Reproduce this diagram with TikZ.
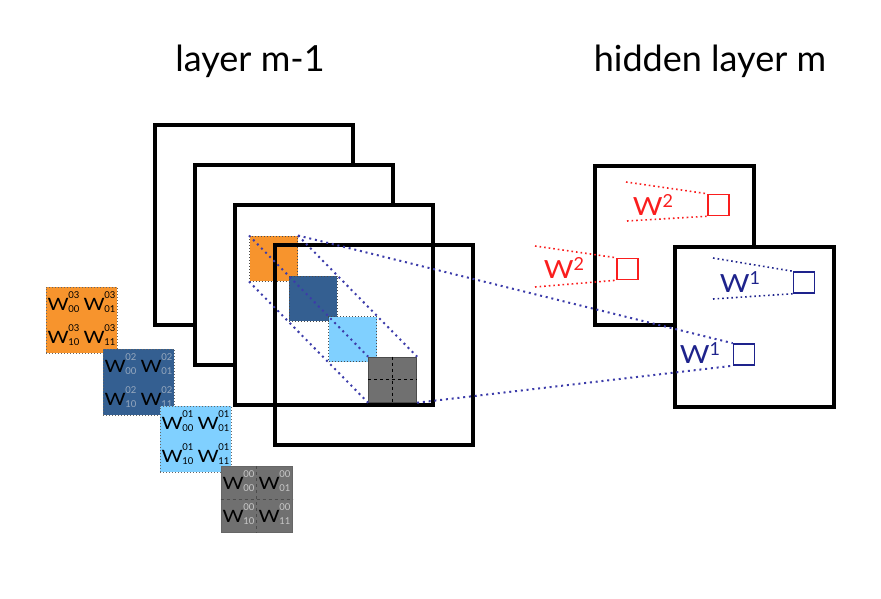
\documentclass[tikz,border=0pt]{standalone}
\usepackage{fontspec}
\setmainfont{Lato}
\usetikzlibrary{positioning}
\definecolor{wOrange}{RGB}{247,148,45}
\definecolor{wDark}{RGB}{52,95,145}
\definecolor{wLight}{RGB}{128,208,255}
\definecolor{wGray}{RGB}{112,112,112}
\definecolor{wScriptA}{RGB}{150,168,190}
\definecolor{wScriptB}{RGB}{200,200,200}
\definecolor{linkblue}{RGB}{60,60,170}
\definecolor{mapred}{RGB}{250,30,30}
\definecolor{mapblue}{RGB}{30,35,140}
\newcommand\wideW{\scalebox{1.2}[1]{W}}
\newcommand\wgt[3]{\wideW\kern-0.5pt\textcolor{#3}{\fontsize{9.5}{10}\selectfont\rlap{\raisebox{12pt}{#1}}\raisebox{-2pt}{#2}}}
\newcommand\wlabel[1]{\scalebox{1.15}[1]{W}\raisebox{8pt}{\fontsize{18}{18}\selectfont #1}}

\begin{document}
\begin{tikzpicture}[x=1pt,y=-1pt,
  sheet/.style={draw,line width=4.5pt,minimum width=198pt,minimum height=200pt,inner sep=0pt},
  fmap/.style={draw,fill=white,line width=4.5pt,minimum width=159pt,minimum height=159pt,inner sep=0pt},
  insq/.style={draw=black!70,dotted,line width=1pt,minimum width=48pt,minimum height=45pt,inner sep=0pt},
  wbox/.style={draw=black!60,dotted,line width=1pt,minimum width=71pt,minimum height=66pt,inner sep=0pt},
  wtxt/.style={inner sep=0pt,font=\fontsize{17}{20}\selectfont},
  link/.style={draw=linkblue,line width=2pt,dash pattern=on 2pt off 3.8pt},
  rlink/.style={link,draw=mapred,line width=1.6pt,dash pattern=on 1.6pt off 3pt},
  blink/.style={link,draw=mapblue,line width=1.6pt,dash pattern=on 1.6pt off 3pt},
  rsq/.style={draw=mapred,line width=1.5pt,minimum size=21pt,inner sep=0pt},
  bsq/.style={rsq,draw=mapblue},
  wlab/.style={inner sep=0pt,font=\fontsize{25}{30}\selectfont},
  headline/.style={anchor=base,font=\fontsize{36}{40}\selectfont}]
\useasboundingbox (0,0) rectangle (881,599);

\node[headline] (tin) at (250,72) {layer m-1};
\node[headline] (tout) at (710,72) {hidden layer m};

\foreach \i in {1,2,3}
  \node[sheet,fill=white] (f\i) at ({214+40*\i},{185+40*\i}) {};

\foreach \nm/\col/\st [count=\k from 0] in {sa/wOrange/dotted,sb/wDark/dotted,sc/wLight/dotted,sd/wGray/solid}
  \node[insq,\st,fill=\col] (\nm) at ({273.5+39.7*\k},{258.5+40.4*\k}) {};
\draw[dashed,line width=1pt] (sd.north) -- (sd.south) (sd.west) -- (sd.east);

\node[sheet] (f4) at (374,345) {};

\draw[link] (sa.north east) -- (sd.north east);
\draw[link] (sa.north west) -- (sd.north west);
\draw[link] (sa.south west) -- (sd.south west);

\foreach \nm/\cx/\cy/\col/\up/\sc/\st in {wa/81.5/320/wOrange/03/black/dotted,
    wb/138.5/382/wDark/02/wScriptA/dotted,
    wc/195.5/439/wLight/01/black/dotted,
    wd/256.5/499.5/wGray/00/wScriptB/solid}{
  \node[wbox,\st,fill=\col] (\nm) at (\cx,\cy) {};
  \node[wtxt,anchor=base] (\nm00) at ([shift={(-18,-10)}]\nm.center) {\wgt{\up}{00}{\sc}};
  \node[wtxt,anchor=base] (\nm01) at ([shift={(18,-10)}]\nm.center) {\wgt{\up}{01}{\sc}};
  \node[wtxt,anchor=base] (\nm10) at ([shift={(-18,23)}]\nm.center) {\wgt{\up}{10}{\sc}};
  \node[wtxt,anchor=base] (\nm11) at ([shift={(18,23)}]\nm.center) {\wgt{\up}{11}{\sc}};
}
\draw[dashed,line width=1pt,black!70] (wd.north) -- (wd.south) (wd.west) -- (wd.east);

\node[fmap] (mb) at (674.5,245.5) {};
\node[fmap,minimum height=160pt] (mf) at (754.5,327) {};

\node[rsq] (r1) at (718.5,205) {};
\node[rsq] (r2) at (627.5,269) {};
\node[bsq] (b1) at (804,282.5) {};
\node[bsq] (b2) at (744,354.5) {};

\node[wlab,text=mapred,anchor=base] (lr1) at (653,215) {\wlabel{2}};
\node[wlab,text=mapred,anchor=base] (lr2) at (564,278) {\wlabel{2}};
\node[wlab,text=mapblue,anchor=base] (lb1) at (740,292) {\wlabel{1}};
\node[wlab,text=mapblue,anchor=base] (lb2) at (700,363) {\wlabel{1}};

\coordinate (r1a) at (626,182);
\coordinate (r1b) at (627,221);
\coordinate (r2a) at (535,246);
\coordinate (r2b) at (535,287);
\coordinate (b1a) at (713,258);
\coordinate (b1b) at (713,299);
\draw[rlink] (r1a) -- (r1.north west);
\draw[rlink] (r1b) -- (r1.south west);
\draw[rlink] (r2a) -- (r2.north west);
\draw[rlink] (r2b) -- (r2.south west);
\draw[blink] (b1a) -- (b1.north west);
\draw[blink] (b1b) -- (b1.south west);

\draw[link] (sa.north east) -- (b2.north west);
\draw[link] (sd.south east) -- (b2.south west);
\end{tikzpicture}
\end{document}
